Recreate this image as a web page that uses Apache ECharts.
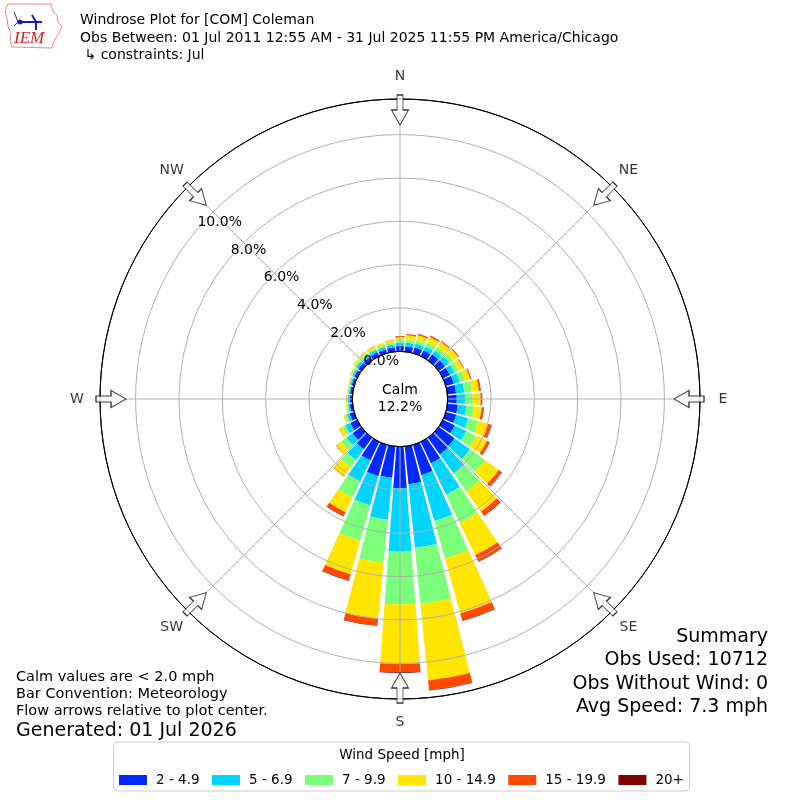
<!DOCTYPE html>
<html>
<head>
<meta charset="utf-8">
<script src="https://cdn.jsdelivr.net/npm/echarts@6/dist/echarts.min.js"></script>
<style>html,body{margin:0;padding:0;background:#fff}#c{width:800px;height:800px}</style>
</head>
<body>
<div id="c"></div>
<script>
// ---- data (percent of observations), directions clockwise from North ----
const directions = [0,10,20,30,40,50,60,70,80,90,100,110,120,130,140,150,160,170,180,190,200,210,220,230,240,250,260,270,280,290,300,310,320,330,340,350];
const speedBins = ['2 - 4.9','5 - 6.9','7 - 9.9','10 - 14.9','15 - 19.9','20+'];
const binColors = ['#0028ff','#00d4ff','#7bff7b','#ffe500','#ff4900','#800000'];
const bin2to5   = [0.24,0.25,0.28,0.30,0.34,0.36,0.36,0.38,0.40,0.42,0.48,0.50,0.60,0.90,0.95,1.10,1.45,1.75,1.92,1.45,1.50,0.95,0.66,0.50,0.35,0.22,0.13,0.12,0.11,0.12,0.15,0.18,0.18,0.19,0.18,0.20];
const bin5to7   = [0.16,0.17,0.18,0.20,0.22,0.24,0.24,0.28,0.38,0.38,0.41,0.57,0.60,0.88,1.10,1.60,2.20,2.95,2.93,1.95,1.40,1.10,0.60,0.35,0.25,0.13,0.08,0.08,0.07,0.07,0.10,0.12,0.12,0.13,0.12,0.13];
const bin7to10  = [0.12,0.14,0.16,0.20,0.20,0.22,0.20,0.24,0.35,0.35,0.34,0.49,0.50,0.85,1.00,1.45,1.80,2.60,2.42,2.00,1.70,0.80,0.42,0.30,0.15,0.08,0.05,0.04,0.04,0.04,0.06,0.08,0.09,0.09,0.09,0.09];
const bin10to15 = [0.14,0.21,0.24,0.28,0.28,0.28,0.24,0.26,0.33,0.37,0.36,0.47,0.55,0.78,1.15,1.65,2.63,3.55,2.76,2.58,1.60,0.75,0.50,0.28,0.17,0.09,0.05,0.05,0.04,0.05,0.07,0.10,0.10,0.10,0.10,0.11];
const bin15to20 = [0.04,0.05,0.06,0.06,0.05,0.04,0.03,0.05,0.07,0.07,0.09,0.15,0.13,0.17,0.23,0.33,0.34,0.45,0.38,0.33,0.30,0.20,0.03,0.02,0.01,0,0,0,0,0,0,0,0.01,0.01,0.01,0.02];
const bin20up   = [0.01,0.01,0.01,0.01,0.01,0.01,0.01,0.01,0.02,0.01,0.02,0.02,0.02,0.02,0.02,0.02,0.02,0.02,0.03,0.02,0.02,0.02,0,0,0,0,0,0,0,0,0,0,0,0,0,0];
const binData = [bin2to5, bin5to7, bin7to10, bin10to15, bin15to20, bin20up];
const ringTicks = [0,2,4,6,8,10];
const compassNames = ['N','NE','E','SE','S','SW','W','NW'];
const compassAngles = [0,45,90,135,180,225,270,315];
const calmPct = '12.2%';

// ---- layout ----
const CX = 400, CY = 399, R_IN = 47.7, R_OUT = 300, PX_PER_PCT = 21.67;
const RMAX = (R_OUT - R_IN) / PX_PER_PCT;
const ARROW_R = (289 - R_IN) / PX_PER_PCT;
const LABEL_R = (323 - R_IN) / PX_PER_PCT;
const FONT = 'DejaVu Sans';

const chart = echarts.init(document.getElementById('c'), null, {renderer:'canvas'});

const polarCfg = {center:[CX, CY], radius:[R_IN, R_OUT]};
const series = binData.map((arr, i) => ({
  type:'bar', name:speedBins[i], coordinateSystem:'polar', polarIndex:0,
  stack:'ws', data:arr, barCategoryGap:'14%', z:2,
  itemStyle:{color:binColors[i]}, silent:true
}));
// flow arrows
series.push({
  type:'scatter', coordinateSystem:'polar', polarIndex:1, z:10, silent:true, clip:false,
  symbol:'path://M5.5,0 L11.5,0 L11.5,15 L17,15 L8.5,30 L0,15 L5.5,15 Z',
  symbolSize:[17,30],
  itemStyle:{color:'#ffffff', borderColor:'#000000', borderWidth:1},
  data: compassAngles.map(a => ({value:[ARROW_R, a], symbolRotate:-a}))
});
// compass labels
series.push({
  type:'scatter', coordinateSystem:'polar', polarIndex:1, z:10, silent:true, clip:false,
  symbol:'circle', symbolSize:0.1, itemStyle:{color:'rgba(0,0,0,0)'},
  label:{show:true, position:'inside', color:'#000', fontSize:14, fontFamily:FONT,
    align:'center', verticalAlign:'middle', formatter: p => compassNames[p.dataIndex]},
  data: compassAngles.map(a => [LABEL_R, a])
});

const splitColors = ringTicks.map(t => t === 0 ? '#000000' : '#b0b0b0');
splitColors.push('#000000');

const option = {
  animation:false,
  backgroundColor:'#ffffff',
  polar:[polarCfg, polarCfg, polarCfg],
  angleAxis:[
    {polarIndex:0, type:'category', data:directions.map(String), startAngle:95, clockwise:true,
     boundaryGap:true, axisLine:{show:false}, axisTick:{show:false}, axisLabel:{show:false}, splitLine:{show:false}},
    {polarIndex:1, type:'value', min:0, max:360, interval:45, startAngle:90, clockwise:true, z:5,
     axisLine:{show:true, lineStyle:{color:'#000000', width:1}}, axisTick:{show:false},
     splitLine:{show:true, lineStyle:{color:'#b0b0b0', width:1}},
     axisLabel:{show:false}},
    {polarIndex:2, type:'value', min:0, max:360, startAngle:140, clockwise:true, show:false}
  ],
  radiusAxis:[
    {polarIndex:0, type:'value', min:0, max:RMAX, show:false},
    {polarIndex:1, type:'value', min:0, max:RMAX, interval:2, z:5,
     axisLine:{show:false}, axisTick:{show:false}, axisLabel:{show:false},
     splitLine:{show:true, lineStyle:{color:splitColors, width:1}}},
    {polarIndex:2, type:'value', min:0, max:RMAX, interval:2, z:6,
     axisLine:{show:false}, axisTick:{show:false}, splitLine:{show:false},
     axisLabel:{show:true, margin:0, color:'#000', fontSize:14, fontFamily:FONT,
       align:'left', verticalAlign:'bottom', padding:0,
       formatter: v => (ringTicks.indexOf(Math.round(v*1000)/1000) >= 0 ? v.toFixed(1) + '%' : '')}}
  ],
  legend:{
    data:speedBins, left:119, top:773, orient:'horizontal', itemWidth:28, itemHeight:10, itemGap:12.5,
    icon:'rect', padding:0, selectedMode:false,
    textStyle:{fontSize:13.5, fontFamily:FONT, color:'#000', padding:[0,0,0,4]}
  },
  title:{
    text:'Windrose Plot for [COM] Coleman\nObs Between: 01 Jul 2011 12:55 AM - 31 Jul 2025 11:55 PM America/Chicago\n \u21b3 constraints: Jul',
    left:80, top:12, padding:0,
    textStyle:{fontSize:14, fontWeight:'normal', fontFamily:FONT, color:'#000', lineHeight:17.5}
  },
  series:series,
  graphic:[
    // IEM logo
    {type:'polyline', silent:true, shape:{points:[[8,4],[51,4],[53,11],[57,16],[58,22],[62,27],[59,33],[56,38],[53,43],[52,48],[12,47],[10,40],[11,33],[8,26],[7,18],[5,11],[8,4]]},
     style:{stroke:'#e88', lineWidth:1, fill:null}},
    {type:'polyline', silent:true, shape:{points:[[18,22],[36,22],[36,30]]}, style:{stroke:'#1a1acc', lineWidth:2, fill:null}},
    {type:'polyline', silent:true, shape:{points:[[14,12],[18,22],[14,26]]}, style:{stroke:'#1a1acc', lineWidth:1, fill:null}},
    {type:'polyline', silent:true, shape:{points:[[32,15],[36,22],[42,22]]}, style:{stroke:'#1a1acc', lineWidth:2, fill:null}},
    {type:'circle', silent:true, shape:{cx:20, cy:22, r:2.5}, style:{fill:'#1a1acc'}},
    {type:'text', silent:true, x:14, y:30, style:{text:'IEM', fill:'#d42020', font:'italic 17px "Liberation Serif", serif'}},
    // calm
    {type:'text', silent:true, x:CX, y:CY, style:{text:'Calm\n' + calmPct, fill:'#000', font:'14px "DejaVu Sans"', align:'center', verticalAlign:'middle', lineHeight:17}},
    // bottom left notes
    {type:'text', silent:true, x:16, y:669, style:{text:'Calm values are < 2.0 mph\nBar Convention: Meteorology\nFlow arrows relative to plot center.', fill:'#000', font:'14.5px "DejaVu Sans"', lineHeight:17}},
    {type:'text', silent:true, x:16, y:722, style:{text:'Generated: 01 Jul 2026', fill:'#000', font:'19px "DejaVu Sans"'}},
    // summary
    {type:'text', silent:true, x:768, y:625, style:{text:'Summary\nObs Used: 10712\nObs Without Wind: 0\nAvg Speed: 7.3 mph', fill:'#000', font:'19px "DejaVu Sans"', align:'right', lineHeight:23.5}},
    // legend box
    {type:'rect', silent:true, z:-1, shape:{x:113.5, y:742, width:576, height:49, r:4}, style:{fill:'#fff', stroke:'#cccccc', lineWidth:1}},
    {type:'text', silent:true, x:402, y:755, style:{text:'Wind Speed [mph]', fill:'#000', font:'13.5px "DejaVu Sans"', align:'center', verticalAlign:'middle'}}
  ]
};
chart.setOption(option);
</script>
</body>
</html>
